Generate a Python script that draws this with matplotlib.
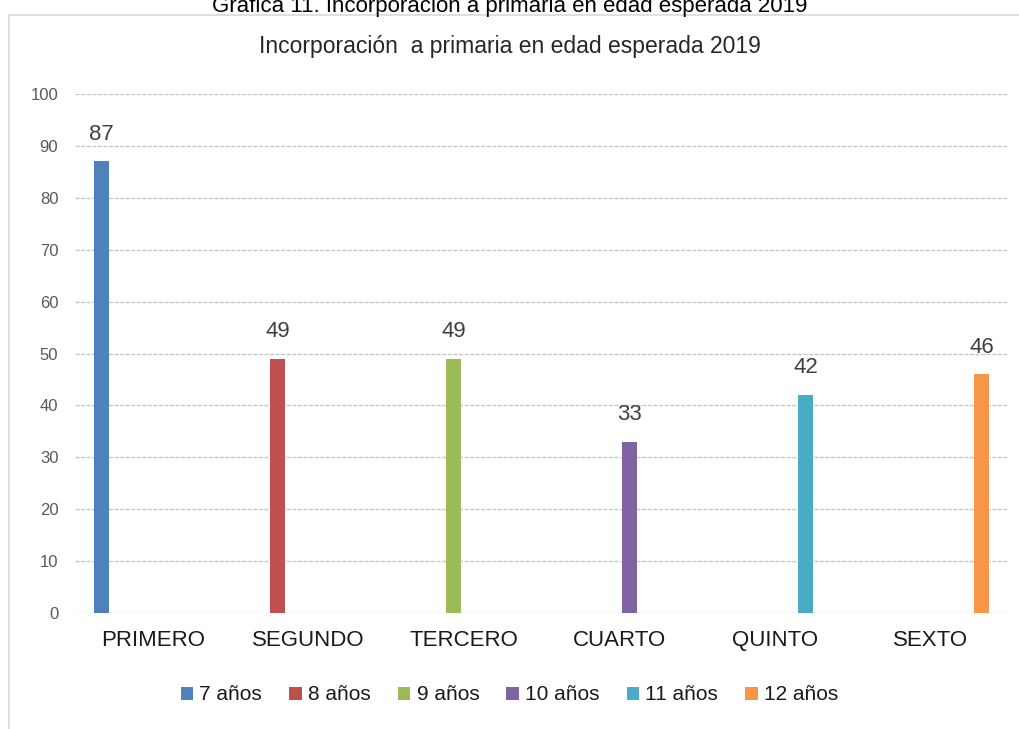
"""
plot.py - Incorporación a primaria en edad esperada 2019 (grouped bars, one value per grade).
"""

import numpy as np
import matplotlib
matplotlib.use("Agg")
import matplotlib.pyplot as plt
from matplotlib.patches import Rectangle

# data

CATEGORIES = ["PRIMERO", "SEGUNDO", "TERCERO", "CUARTO", "QUINTO", "SEXTO"]
SERIES = ["7 años", "8 años", "9 años", "10 años", "11 años", "12 años"]
# each age group only has a value in its matching grade
VAL_7 = [87, None, None, None, None, None]
VAL_8 = [None, 49, None, None, None, None]
VAL_9 = [None, None, 49, None, None, None]
VAL_10 = [None, None, None, 33, None, None]
VAL_11 = [None, None, None, None, 42, None]
VAL_12 = [None, None, None, None, None, 46]
YTICKS = [0, 10, 20, 30, 40, 50, 60, 70, 80, 90, 100]

COLORS = ["#4F81BD", "#C0504D", "#9BBB59", "#8064A2", "#4BACC6", "#F79646"]
FONT = ["Liberation Sans Narrow", "Liberation Sans", "DejaVu Sans"]

plt.rcParams["font.family"] = FONT

fig = plt.figure(figsize=(10.19, 7.29), dpi=100)

# outer title (partly cut off at the top in the original)
fig.text(0.5, 1 - 12 / 729, "Gráfica 11. Incorporación a primaria en edad esperada 2019",
         ha="center", va="baseline", fontsize=16, color="#000000",
         family=["Liberation Sans", "DejaVu Sans"])

# chart frame, kept behind the axes
fig.patches.append(Rectangle((9 / 1019, -0.01), 1.0, 1 - 15 / 729 + 0.01,
                             transform=fig.transFigure, facecolor="white",
                             edgecolor="#d9d9d9", linewidth=1.2, zorder=-5))

fig.text(0.5, 1 - 47 / 729, "Incorporación  a primaria en edad esperada 2019",
         ha="center", va="center", fontsize=16.5, color="#262626")

ax = fig.add_axes([75 / 1019, 1 - 613 / 729, (1008 - 75) / 1019, (613 - 94) / 729])
ax.set_facecolor("none")

x = np.arange(len(CATEGORIES))
step = 0.132
width = 0.1
all_series = [VAL_7, VAL_8, VAL_9, VAL_10, VAL_11, VAL_12]

for i, (label, vals) in enumerate(zip(SERIES, all_series)):
    heights = np.array([np.nan if v is None else v for v in vals], dtype=float)
    pos = x + (i - 2.5) * step
    ax.bar(pos, np.nan_to_num(heights), width=width, color=COLORS[i], label=label, zorder=3)
    for xp, h in zip(pos, heights):
        if not np.isnan(h):
            ax.annotate(f"{h:.0f}", (xp, h), xytext=(0, 12), textcoords="offset points",
                        ha="center", va="bottom", fontsize=16, color="#404040")

ax.set_xlim(-0.5, len(CATEGORIES) - 0.5)
ax.set_ylim(0, 100)
ax.set_yticks(YTICKS)
ax.set_yticklabels([str(t) for t in YTICKS], fontsize=12, color="#595959")
ax.set_xticks(x)
ax.set_xticklabels(CATEGORIES, fontsize=16, color="#1a1a1a")
ax.tick_params(axis="y", length=0, pad=12)
ax.tick_params(axis="x", length=0, pad=12)
for sp in ax.spines.values():
    sp.set_visible(False)
ax.yaxis.grid(True, color="#c8c8c8", linewidth=1, linestyle=(0, (3, 1)), zorder=0)
ax.set_axisbelow(True)

fig.legend(loc="center", bbox_to_anchor=(0.5, 1 - 695 / 729), ncol=6, frameon=False,
           fontsize=15, handlelength=0.6, handleheight=0.6, handletextpad=0.3,
           columnspacing=1.3, labelcolor="#1a1a1a")

fig.savefig("out.png", dpi=100)
